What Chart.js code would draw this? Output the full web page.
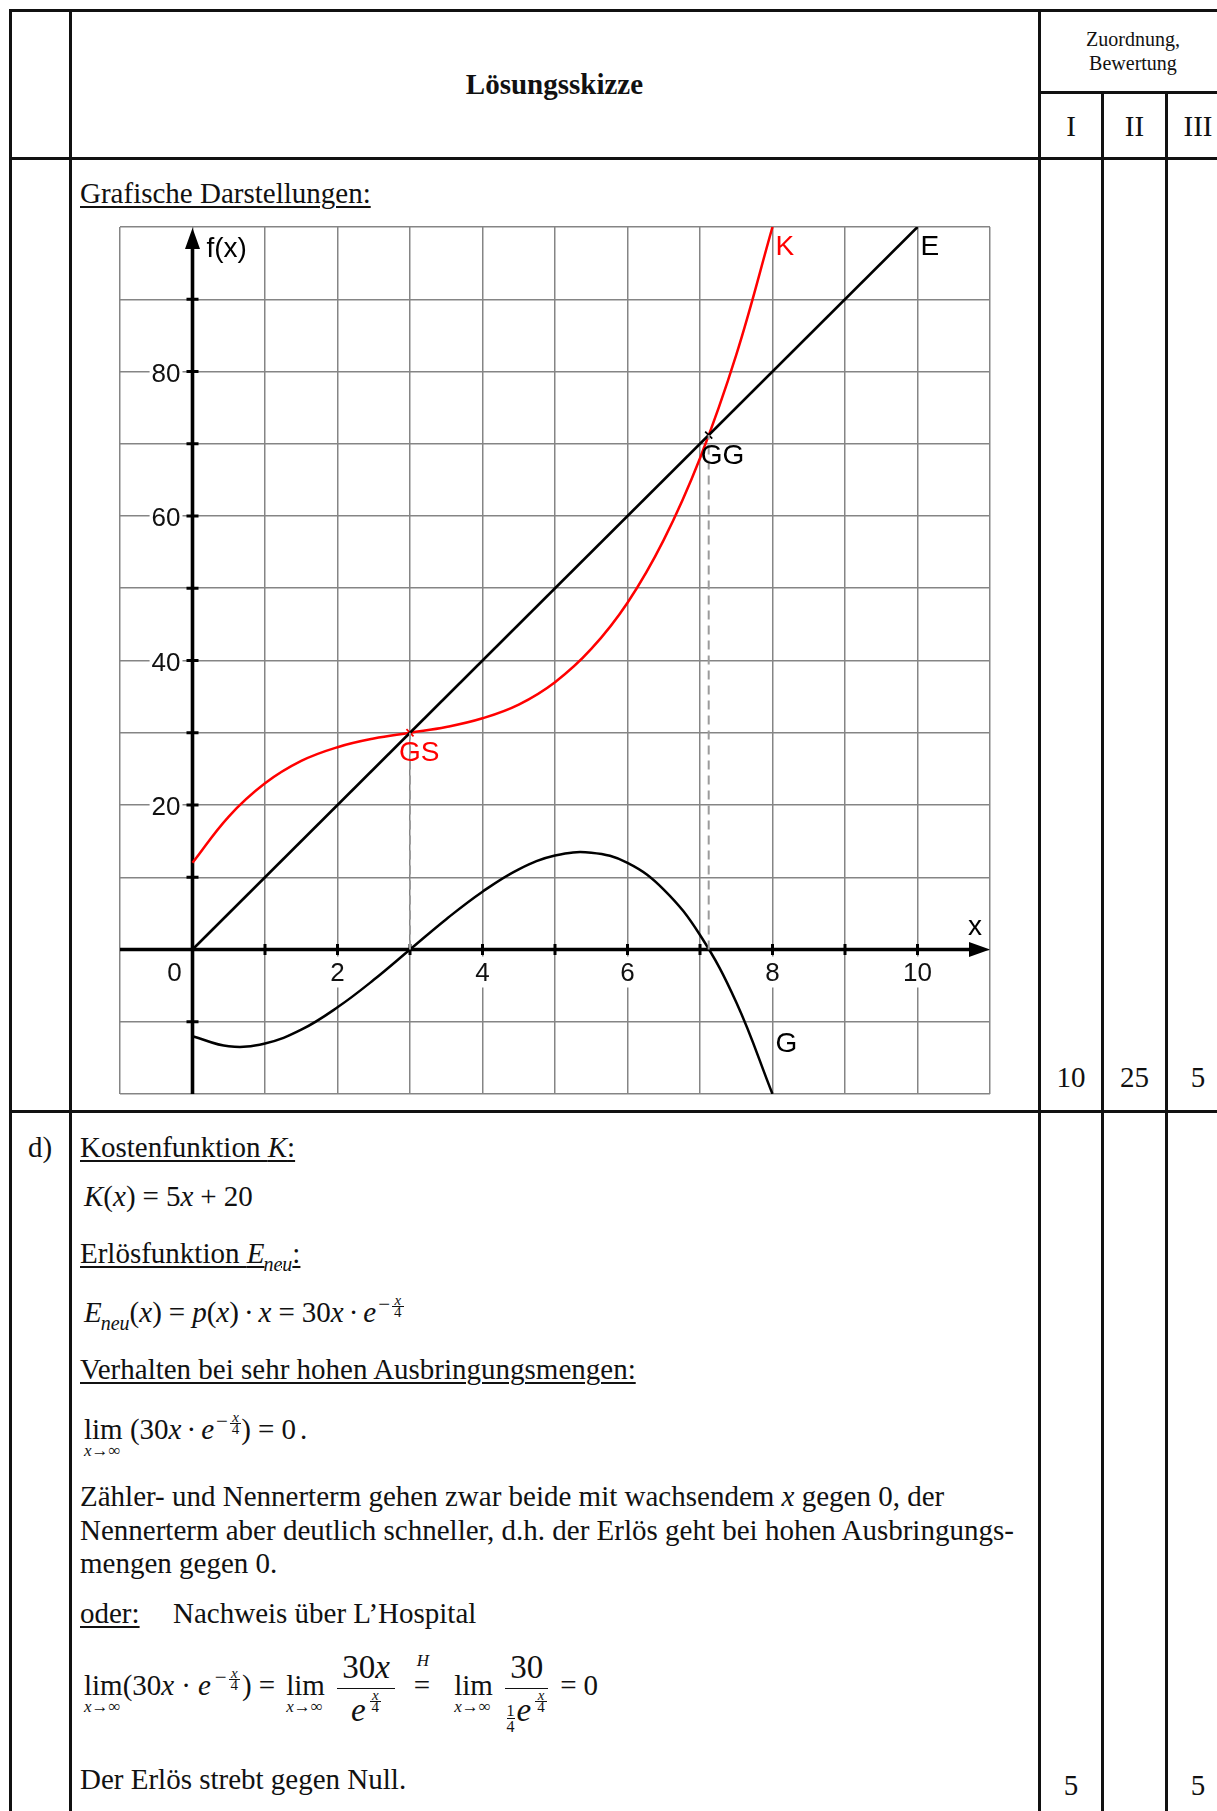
<!DOCTYPE html>
<html lang="de">
<head>
<meta charset="utf-8">
<title>Lösungsskizze</title>
<script src="https://cdn.jsdelivr.net/npm/chart.js@4.4.1/dist/chart.umd.min.js"></script>
<style>
  body { margin: 0; background: #fff; }
  #page { position: relative; width: 1217px; height: 1811px; overflow: hidden;
          font-family: "Liberation Serif", "Times New Roman", serif; font-size: 29px; color: #111; }
  .hl { position: absolute; height: 2.5px; background: #111; }
  .vl { position: absolute; width: 2.5px; background: #111; }
  .t { position: absolute; white-space: nowrap; line-height: 34px; }
  .c { text-align: center; }
  .u { text-decoration: underline; text-decoration-thickness: 1.5px; text-underline-offset: 3px; }
  .op { margin: 0 7px; }
  .dot { margin: 0 5px; }
  .ns { font-style: italic; font-size: 20px; position: relative; top: 8px; margin-left: -1px; }
  .ex { display: inline-block; vertical-align: middle; position: relative; top: -9px; font-size: 21px; line-height: 11px; margin-left: 2px; }
  .sf { display: inline-block; vertical-align: middle; text-align: center; font-size: 15px; line-height: 11px; margin-left: 2px; }
  .sf > span { display: block; padding: 0 2px; }
  .sf > span:first-child { border-bottom: 1px solid #111; }
  .lim { position: relative; display: inline-block; }
  .lw { min-width: 46px; }
  .lsub { position: absolute; left: 0; top: 31px; font-size: 17px; line-height: 15px; white-space: nowrap; }
  .frac { display: inline-flex; flex-direction: column; align-items: center; vertical-align: middle; margin: 0 5px; font-size: 33px; }
  .frac > .num { line-height: 42px; border-bottom: 1.5px solid #111; padding: 0 5px; }
  .frac > .den { line-height: 42px; }
  .eqh { position: relative; display: inline-block; margin: 0 14px; }
  .eqh > .h { position: absolute; left: 3px; top: -16px; font-size: 17px; font-style: italic; line-height: 17px; }
  .q { display: inline-block; vertical-align: middle; text-align: center; font-size: 16px; line-height: 15px; margin-right: 2px; position: relative; top: 5px; }
  .q > span { display: block; }
  .q > span:first-child { border-bottom: 1px solid #111; }
  canvas { position: absolute; left: 118px; top: 225px; }
</style>
</head>
<body>
<div id="page">
  <!-- Tabellenlinien -->
  <div class="hl" style="left:9px;top:9px;width:1208px"></div>
  <div class="hl" style="left:1038px;top:91px;width:179px"></div>
  <div class="hl" style="left:9px;top:157px;width:1208px"></div>
  <div class="hl" style="left:9px;top:1110px;width:1208px"></div>
  <div class="vl" style="left:9px;top:9px;height:1802px"></div>
  <div class="vl" style="left:69px;top:9px;height:1802px"></div>
  <div class="vl" style="left:1038px;top:9px;height:1802px"></div>
  <div class="vl" style="left:1101px;top:91px;height:1720px"></div>
  <div class="vl" style="left:1165px;top:91px;height:1720px"></div>

  <!-- Kopfzeile -->
  <div class="t c" style="left:70px;width:969px;top:67px;font-weight:bold">Lösungsskizze</div>
  <div class="t c" style="left:1039px;width:188px;top:27px;font-size:20px;line-height:24px">Zuordnung,<br>Bewertung</div>
  <div class="t c" style="left:1040px;width:62px;top:109px">I</div>
  <div class="t c" style="left:1103px;width:63px;top:109px">II</div>
  <div class="t c" style="left:1167px;width:62px;top:109px">III</div>

  <!-- Grafik -->
  <div class="t u" style="left:80px;top:176px">Grafische Darstellungen:</div>
  <canvas id="chart" width="874" height="871"></canvas>
  <div class="t c" style="left:1040px;width:62px;top:1060px">10</div>
  <div class="t c" style="left:1103px;width:63px;top:1060px">25</div>
  <div class="t c" style="left:1167px;width:62px;top:1060px">5</div>

  <!-- Teil d) -->
  <div class="t" style="left:28px;top:1130px">d)</div>
  <div class="t" style="left:80px;top:1130px"><span class="u">Kostenfunktion <i>K</i>:</span></div>
  <div class="t" style="left:84px;top:1179px"><i>K</i>(<i>x</i>)<span class="op">=</span>5<i>x</i><span class="op">+</span>20</div>
  <div class="t" style="left:80px;top:1236px"><span class="u">Erlösfunktion <i>E</i><span class="ns">neu</span>:</span></div>
  <div class="t" style="left:84px;top:1295px"><i>E</i><span class="ns">neu</span>(<i>x</i>)<span class="op">=</span><i>p</i>(<i>x</i>)<span class="dot">·</span><i>x</i><span class="op">=</span>30<i>x</i><span class="dot">·</span><i>e</i><span class="ex">−<span class="sf"><span><i>x</i></span><span>4</span></span></span></div>
  <div class="t" style="left:80px;top:1352px"><span class="u">Verhalten bei sehr hohen Ausbringungsmengen:</span></div>
  <div class="t" style="left:84px;top:1412px"><span class="lim">lim<span class="lsub"><i>x</i>→∞</span></span> (30<i>x</i><span class="dot">·</span><i>e</i><span class="ex">−<span class="sf"><span><i>x</i></span><span>4</span></span></span>)<span class="op">=</span>0<span style="margin-left:4px">.</span></div>
  <div class="t" style="left:80px;top:1479px">Zähler- und Nennerterm gehen zwar beide mit wachsendem <i>x</i> gegen 0, der</div>
  <div class="t" style="left:80px;top:1513px">Nennerterm aber deutlich schneller, d.h. der Erlös geht bei hohen Ausbringungs-</div>
  <div class="t" style="left:80px;top:1546px">mengen gegen 0.</div>
  <div class="t" style="left:80px;top:1596px"><span class="u">oder:</span></div>
  <div class="t" style="left:173px;top:1596px">Nachweis über L’Hospital</div>
  <div class="t" style="left:84px;top:1646px"><span class="lim">lim<span class="lsub"><i>x</i>→∞</span></span>(30<i>x</i><span class="dot" style="margin:0 7px">·</span><i>e</i><span class="ex" style="margin-left:4px">−<span class="sf"><span><i>x</i></span><span>4</span></span></span><span style="margin-left:2px">)</span><span class="op">=</span><span class="lim lw" style="margin-left:4px">lim<span class="lsub"><i>x</i>→∞</span></span><span class="frac"><span class="num">30<i>x</i></span><span class="den"><i>e</i><span class="ex" style="top:-12px"><span class="sf"><span><i>x</i></span><span>4</span></span></span></span></span><span class="eqh">=<span class="h">H</span></span><span class="lim lw" style="margin-left:10px">lim<span class="lsub"><i>x</i>→∞</span></span><span class="frac"><span class="num">30</span><span class="den"><span class="q"><span>1</span><span>4</span></span><i>e</i><span class="ex" style="top:-12px"><span class="sf"><span><i>x</i></span><span>4</span></span></span></span></span><span class="op">=</span>0</div>
  <div class="t" style="left:80px;top:1762px">Der Erlös strebt gegen Null.</div>
  <div class="t c" style="left:1040px;width:62px;top:1768px">5</div>
  <div class="t c" style="left:1167px;width:62px;top:1768px">5</div>
</div>

<script>
// Kosten K, Erlös E und Gewinn G über der Ausbringungsmenge x
const xValues = [0, 0.5, 1, 1.5, 2, 2.5, 3, 3.5, 4, 4.5, 5, 5.5, 6, 6.5, 7, 7.5, 8];
const costK = [12, 18.4, 23, 26.1, 28, 29.2, 30, 30.8, 32, 33.9, 37, 41.6, 48, 56.7, 68, 82.3, 100];
const profitG = [-12, -13.4, -13, -11.1, -8, -4.2, 0, 4.2, 8, 11.1, 13, 13.4, 12, 8.3, 2, -7.3, -20];
const revenueX = [0, 10];
const revenueE = [0, 100];

// Gewinnschwelle GS und Gewinngrenze GG
const markNames = ['GS', 'GG'];
const markX = [3, 7.12];
const markY = [30, 71.2];

const xTickValues = [2, 4, 6, 8, 10];
const yTickValues = [20, 40, 60, 80];

const RED = '#ff0000';
const INK = '#000000';
const SANS = '"Liberation Sans", Arial, sans-serif';

const toPoints = (xs, ys) => xs.map((x, i) => ({ x, y: ys[i] }));

// Koordinatenachsen, Striche und Beschriftung der Achsen
const axesPlugin = {
  id: 'axes',
  beforeDatasetsDraw(chart) {
    const { ctx, scales: { x, y } } = chart;
    const x0 = x.getPixelForValue(0);
    const y0 = y.getPixelForValue(0);
    const right = x.getPixelForValue(x.max);
    const left = x.getPixelForValue(x.min);
    const top = y.getPixelForValue(y.max);
    const bottom = y.getPixelForValue(y.min);
    ctx.save();
    ctx.strokeStyle = INK;
    ctx.fillStyle = INK;
    ctx.lineWidth = 3.6;
    ctx.beginPath();
    ctx.moveTo(left, y0); ctx.lineTo(right - 16, y0);
    ctx.moveTo(x0, bottom); ctx.lineTo(x0, top + 16);
    ctx.stroke();
    // Pfeilspitzen
    ctx.beginPath();
    ctx.moveTo(right, y0); ctx.lineTo(right - 21, y0 - 7.5); ctx.lineTo(right - 21, y0 + 7.5); ctx.closePath();
    ctx.moveTo(x0, top + 1); ctx.lineTo(x0 - 7.5, top + 22); ctx.lineTo(x0 + 7.5, top + 22); ctx.closePath();
    ctx.fill();
    // Teilstriche
    ctx.lineWidth = 3;
    ctx.beginPath();
    for (const t of x.ticks) {
      if (t.value <= 0 || t.value >= x.max) continue;
      const px = x.getPixelForValue(t.value);
      ctx.moveTo(px, y0 - 5.5); ctx.lineTo(px, y0 + 5.5);
    }
    for (const t of y.ticks) {
      if (t.value === 0 || t.value <= y.min || t.value >= y.max) continue;
      const py = y.getPixelForValue(t.value);
      ctx.moveTo(x0 - 6, py); ctx.lineTo(x0 + 6, py);
    }
    ctx.stroke();

    // Zahlen mit weißem Hintergrund über dem Gitter
    ctx.font = '26px ' + SANS;
    ctx.textBaseline = 'middle';
    const label = (text, cx, cy, align) => {
      const w = ctx.measureText(text).width;
      const lx = align === 'right' ? cx - w : cx - w / 2;
      ctx.fillStyle = '#fff';
      ctx.fillRect(lx - 2, cy - 15, w + 4, 31);
      ctx.fillStyle = '#111';
      ctx.textAlign = 'left';
      ctx.fillText(text, lx, cy + 2);
    };
    for (const v of xTickValues) label(String(v), x.getPixelForValue(v), y0 + 22, 'center');
    label('0', x0 - 18, y0 + 22, 'center');
    for (const v of yTickValues) label(String(v), x0 - 12, y.getPixelForValue(v) + 1, 'right');

    ctx.font = '28px ' + SANS;
    ctx.fillStyle = INK;
    ctx.textBaseline = 'alphabetic';
    ctx.textAlign = 'left';
    ctx.fillText('f(x)', x0 + 14, top + 30);
    ctx.textAlign = 'center';
    ctx.fillText('x', right - 15, y0 - 15);
    ctx.restore();
  },
  afterDatasetsDraw(chart) {
    const { ctx, scales: { x, y } } = chart;
    const last = (xs, ys) => [x.getPixelForValue(xs[xs.length - 1]), y.getPixelForValue(ys[ys.length - 1])];
    ctx.save();
    ctx.font = '28px ' + SANS;
    ctx.textAlign = 'left';
    ctx.textBaseline = 'alphabetic';
    let [px, py] = last(xValues, costK);
    ctx.fillStyle = RED;
    ctx.fillText('K', px + 3, py + 28);
    [px, py] = last(revenueX, revenueE);
    ctx.fillStyle = INK;
    ctx.fillText('E', px + 3, py + 28);
    [px, py] = last(xValues, profitG);
    ctx.fillText('G', px + 3, py - 42);
    const gs = [x.getPixelForValue(markX[0]), y.getPixelForValue(markY[0])];
    ctx.fillStyle = RED;
    ctx.fillText(markNames[0], gs[0] - 11, gs[1] + 28);
    const gg = [x.getPixelForValue(markX[1]), y.getPixelForValue(markY[1])];
    ctx.fillStyle = INK;
    ctx.fillText(markNames[1], gg[0] - 8, gg[1] + 29);
    ctx.restore();
  }
};

const dashed = (i) => ({
  data: [{ x: markX[i], y: 0 }, { x: markX[i], y: markY[i] }],
  borderColor: '#9c9c9c',
  borderWidth: 2,
  borderDash: [9, 6],
  pointRadius: 0,
});

new Chart(document.getElementById('chart'), {
  type: 'line',
  data: {
    datasets: [
      dashed(0),
      dashed(1),
      {
        label: 'E',
        data: toPoints(revenueX, revenueE),
        borderColor: INK,
        borderWidth: 2.6,
        pointRadius: 0,
      },
      {
        label: 'K',
        data: toPoints(xValues, costK),
        borderColor: RED,
        borderWidth: 2.5,
        pointRadius: 0,
        tension: 0.4,
      },
      {
        label: 'G',
        data: toPoints(xValues, profitG),
        borderColor: INK,
        borderWidth: 2.5,
        pointRadius: 0,
        tension: 0.4,
      },
      {
        type: 'scatter',
        data: toPoints(markX, markY),
        pointStyle: 'crossRot',
        pointRadius: 5,
        pointBorderWidth: 1.8,
        pointBorderColor: [RED, INK],
        showLine: false,
      },
    ],
  },
  options: {
    responsive: false,
    devicePixelRatio: 1,
    animation: false,
    layout: { padding: 2, autoPadding: false },
    plugins: { legend: { display: false }, tooltip: { enabled: false } },
    scales: {
      x: {
        type: 'linear',
        min: -1,
        max: 11,
        ticks: { stepSize: 1, display: false },
        grid: { color: '#858585', lineWidth: 1.5, drawTicks: false },
        border: { display: false },
      },
      y: {
        type: 'linear',
        min: -20,
        max: 100,
        ticks: { stepSize: 10, display: false },
        grid: { color: '#858585', lineWidth: 1.5, drawTicks: false },
        border: { display: false },
      },
    },
  },
  plugins: [axesPlugin],
});
</script>
</body>
</html>
